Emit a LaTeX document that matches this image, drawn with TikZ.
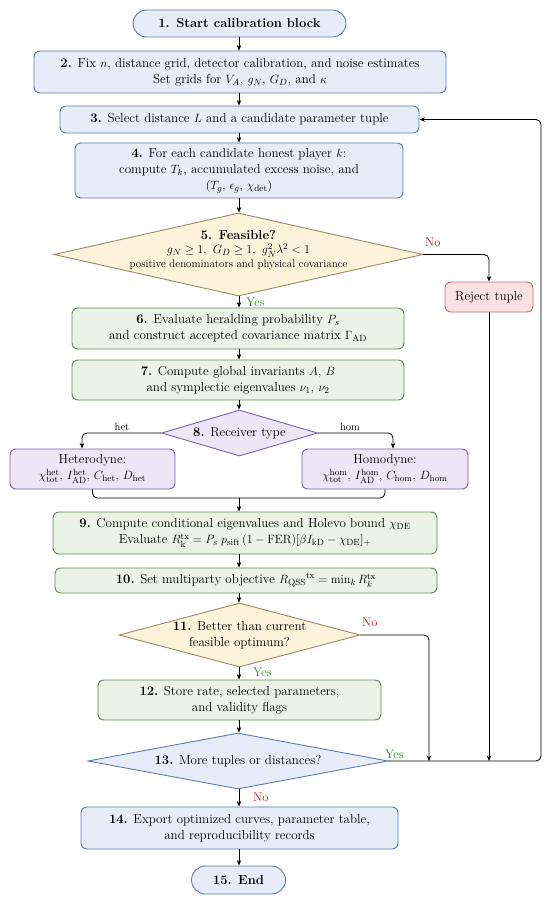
\documentclass[tikz,border=0pt]{standalone}
\usepackage{amsmath,amssymb}
\usetikzlibrary{shapes.geometric,shapes.misc,arrows.meta}
\definecolor{bluefill}{HTML}{E6EDF8}
\definecolor{blueline}{HTML}{5B7DB1}
\definecolor{greenfill}{HTML}{EAF3E5}
\definecolor{greenline}{HTML}{5E8C52}
\definecolor{yelfill}{HTML}{FDF2DA}
\definecolor{yelline}{HTML}{9C8A62}
\definecolor{purfill}{HTML}{ECE6F7}
\definecolor{purline}{HTML}{7E62AE}
\definecolor{redfill}{HTML}{FBE2E2}
\definecolor{redline}{HTML}{C76B6B}
\definecolor{yescol}{HTML}{2E8B2E}
\definecolor{nocol}{HTML}{C0161B}
\tikzset{
  mainfont/.style={font=\fontsize{13}{16}\selectfont},
  box/.style={rectangle, rounded corners=6pt, line width=0.9pt, align=center, inner sep=0pt, mainfont},
  bluebox/.style={box, draw=blueline, fill=bluefill},
  greenbox/.style={box, draw=greenline, fill=greenfill},
  purbox/.style={box, draw=purline, fill=purfill},
  redbox/.style={box, draw=redline, fill=redfill},
  termbox/.style={rounded rectangle, line width=0.9pt, draw=blueline, fill=bluefill, inner sep=0pt, mainfont},
  dia/.style={diamond, line width=0.9pt, inner sep=0pt},
  yeldia/.style={dia, draw=yelline, fill=yelfill},
  bluedia/.style={dia, draw=blueline, fill=bluefill},
  purdia/.style={dia, draw=purline, fill=purfill},
  diatext/.style={align=center, inner sep=0pt, mainfont},
  conn/.style={line width=0.85pt, rounded corners=5pt},
  arr/.style={conn, -{Stealth[length=5.5pt,width=4.5pt]}},
  yeslab/.style={text=yescol, font=\fontsize{12.5}{14}\selectfont, inner sep=0pt},
  nolab/.style={text=nocol, font=\fontsize{12.5}{14}\selectfont, inner sep=0pt},
  brlab/.style={font=\fontsize{10.5}{12}\selectfont, inner sep=0pt},
}
\begin{document}
\begin{tikzpicture}[x=1pt,y=-1pt]
\useasboundingbox[fill=white] (0,0) rectangle (550,904);
\coordinate (ax) at (239,0);
% nodes
\node[termbox, minimum width=213pt, minimum height=27pt] (n1) at (239.5,23.5) {\textbf{1. Start calibration block}};
\node[bluebox, minimum width=412pt, minimum height=42pt] (n2) at (240,72) {\textbf{2.} Fix $n$, distance grid, detector calibration, and noise estimates\\ Set grids for $V_A$, $g_N$, $G_D$, and $\kappa$};
\node[bluebox, minimum width=359pt, minimum height=27pt] (n3) at (239.5,119.5) {\textbf{3.} Select distance $L$ and a candidate parameter tuple};
\node[bluebox, minimum width=328pt, minimum height=55pt] (n4) at (239,170.5) {\textbf{4.} For each candidate honest player $k$:\\ compute $T_k$, accumulated excess noise, and\\ $(T_g,\, \epsilon_g,\, \chi_{\mathrm{det}})$};
\node[yeldia, minimum width=369pt, minimum height=83pt] (n5) at (238.5,254.5) {};
\node[diatext, font=\fontsize{13}{14}\selectfont] (n5t) at (238.5,250.5) {\textbf{5. Feasible?}\\ $g_N \ge 1,\ G_D \ge 1,\ g_N^2\lambda^2 < 1$\\ {\fontsize{11}{13}\selectfont positive denominators and physical covariance}};
\node[redbox, minimum width=88pt, minimum height=30pt] (rej) at (489,297) {Reject tuple};
\node[greenbox, minimum width=332pt, minimum height=41pt] (n6) at (238,328.5) {\textbf{6.} Evaluate heralding probability $P_s$\\ and construct accepted covariance matrix $\Gamma_{\mathrm{AD}}$};
\node[greenbox, minimum width=332pt, minimum height=40pt] (n7) at (238,380) {\textbf{7.} Compute global invariants $A$, $B$\\ and symplectic eigenvalues $\nu_1$, $\nu_2$};
\node[purdia, minimum width=156pt, minimum height=46pt] (n8) at (239.5,433) {};
\node[diatext] (n8t) at (239.5,433) {\textbf{8.} Receiver type};
\node[purbox, minimum width=165pt, minimum height=40pt] (het) at (92.5,469) {Heterodyne:\\ $\chi_{\mathrm{tot}}^{\mathrm{het}},\, I_{\mathrm{AD}}^{\mathrm{het}},\, C_{\mathrm{het}},\, D_{\mathrm{het}}$};
\node[purbox, minimum width=166pt, minimum height=40pt] (hom) at (385,469) {Homodyne:\\ $\chi_{\mathrm{tot}}^{\mathrm{hom}},\, I_{\mathrm{AD}}^{\mathrm{hom}},\, C_{\mathrm{hom}},\, D_{\mathrm{hom}}$};
\node[greenbox, minimum width=384pt, minimum height=42pt] (n9) at (245,533) {\textbf{9.} Compute conditional eigenvalues and Holevo bound $\chi_{\mathrm{DE}}$\\ Evaluate $R_{\mathrm{k}}^{\mathrm{tx}} = P_s\; p_{\mathrm{sift}}\,(1-\mathrm{FER})[\beta I_{\mathrm{kD}}-\chi_{\mathrm{DE}}]_{+}$};
\node[greenbox, minimum width=382pt, minimum height=25pt] (n10) at (246,580.5) {\textbf{10.} Set multiparty objective ${R_{\mathrm{QSS}}}^{\mathrm{tx}} = \min_k R_k^{\mathrm{tx}}$};
\node[yeldia, minimum width=241pt, minimum height=64pt] (n11) at (239.5,635) {};
\node[diatext] (n11t) at (239.5,635) {\textbf{11.} Better than current\\ feasible optimum?};
\node[greenbox, minimum width=283pt, minimum height=40pt] (n12) at (239.5,700) {\textbf{12.} Store rate, selected parameters,\\ and validity flags};
\node[bluedia, minimum width=300pt, minimum height=56pt] (n13) at (238,761) {};
\node[diatext] (n13t) at (238,761) {\textbf{13.} More tuples or distances?};
\node[bluebox, minimum width=317pt, minimum height=42pt] (n14) at (239.5,828) {\textbf{14.} Export optimized curves, parameter table,\\ and reproducibility records};
\node[termbox, minimum width=94pt, minimum height=28pt] (n15) at (238.5,880) {\textbf{15. End}};
% coordinates for routing
\coordinate (merge) at (239,498);
\coordinate (hetc) at (82,433);
\coordinate (homc) at (393,433);
\coordinate (rejx) at (489,0);
\coordinate (n11x) at (429,0);
\coordinate (loopx) at (541,0);
% main connectors
\draw[arr] (n1.south -| ax) -- (n2.north -| ax);
\draw[arr] (n2.south -| ax) -- (n3.north -| ax);
\draw[arr] (n3.south -| ax) -- (n4.north -| ax);
\draw[arr] (n4.south -| ax) -- (n5.north -| ax);
\draw[arr] (n5.south -| ax) -- (n6.north -| ax);
\draw[arr] (n6.south -| ax) -- (n7.north -| ax);
\draw[arr] (n7.south -| ax) -- (n8.north -| ax);
\draw[arr] (n8.west) -| (het.north -| hetc);
\draw[arr] (n8.east) -| (hom.north -| homc);
\draw[conn] (het.south) |- (merge) -| (hom.south);
\draw[arr] (merge) -- (n9.north -| ax);
\draw[arr] (n9.south -| ax) -- (n10.north -| ax);
\draw[arr] (n10.south -| ax) -- (n11.north -| ax);
\draw[arr] (n11.south -| ax) -- (n12.north -| ax);
\draw[arr] (n12.south -| ax) -- (n13.north -| ax);
\draw[arr] (n13.south -| ax) -- (n14.north -| ax);
\draw[arr] (n14.south -| ax) -- (n15.north -| ax);
% side connectors
\draw[arr] (n5.east) -| (rej.north);
\draw[arr] (rej.south) -- (rejx |- n13.east);
\draw[arr] (n11.east) -| (n11x |- n13.east);
\draw[arr] (n13.east) -| (loopx |- n3.east) -- (n3.east);
% labels
\node[nolab, anchor=south west] (l5no) at (425,247) {No};
\node[yeslab, anchor=west] (l5yes) at (246,302) {Yes};
\node[brlab, anchor=south] (lhet) at (122,431) {het};
\node[brlab, anchor=south] (lhom) at (350,431) {hom};
\node[nolab, anchor=west] (l11no) at (362,622) {No};
\node[yeslab, anchor=west] (l11yes) at (253,672) {Yes};
\node[yeslab, anchor=west] (l13yes) at (385,754) {Yes};
\node[nolab, anchor=west] (l13no) at (253,797) {No};
\end{tikzpicture}
\end{document}
